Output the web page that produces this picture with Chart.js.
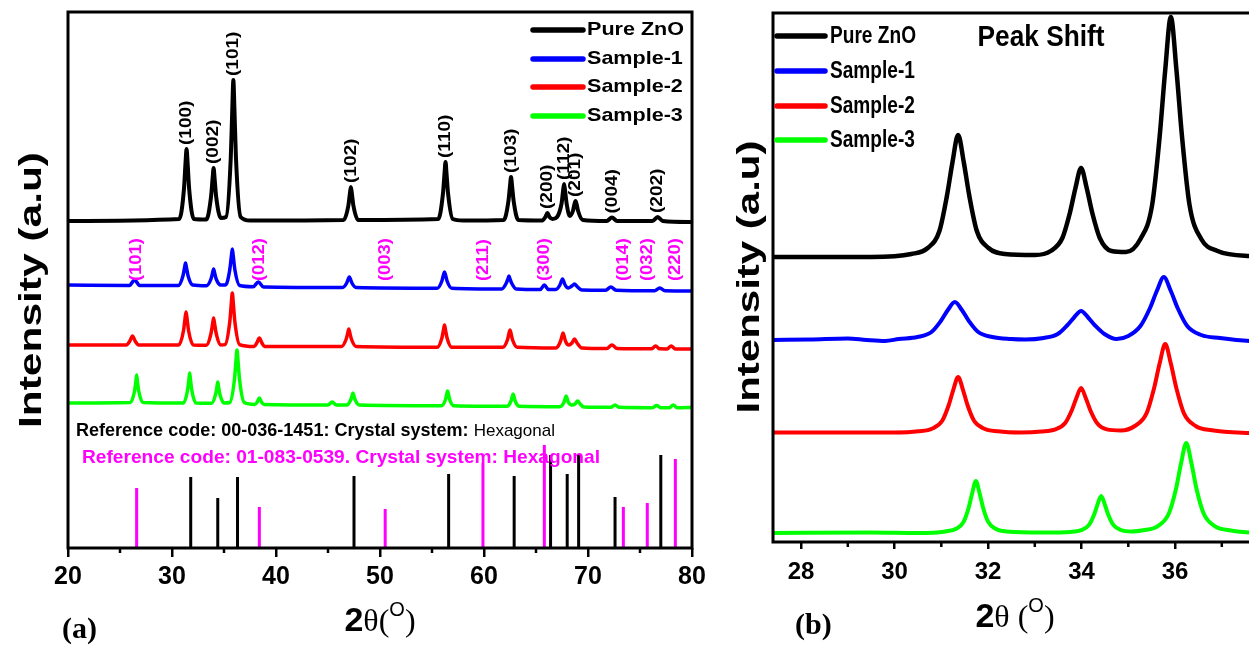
<!DOCTYPE html>
<html><head><meta charset="utf-8">
<script src="https://cdn.jsdelivr.net/npm/chart.js@4.4.1/dist/chart.umd.min.js"></script>
<style>
html,body{margin:0;padding:0;background:#fff;overflow:hidden;width:1249px;height:649px;position:relative;}
#wa{position:absolute;left:0;top:0;width:720px;height:649px;}
#wb{position:absolute;left:725px;top:0;width:620px;height:649px;}
</style></head><body>
<div id="wa"><canvas id="ca" width="720" height="649"></canvas></div>
<div id="wb"><canvas id="cb" width="620" height="649"></canvas></div>
<script>
// ---------------- DATA ----------------
const seriesNames = ['Pure ZnO', 'Sample-1', 'Sample-2', 'Sample-3'];
const seriesColors = ['#000000', '#0000ff', '#ff0000', '#00ff00'];

// Panel (a): 2θ vs stacked intensity (a.u.)
const pureZnO_a = [[20,327],[30.7,329],[31.15,359],[31.3,385],[31.4,399],[31.5,385],[31.65,359],[32.1,329],
[33.3,328.5],[33.75,351],[33.9,369],[34.0,380],[34.1,369],[34.25,351],[34.7,330],
[35.2,331],[35.65,390],[35.8,440],[35.9,468],[36.0,440],[36.15,390],[36.6,331],
[37.5,327.5],[46.5,328],[46.95,342],[47.1,354],[47.2,361],[47.3,354],[47.45,342],[47.9,328],
[55.6,329],[56.05,354],[56.2,374],[56.3,386],[56.4,374],[56.55,354],[57.0,329],[58,327.5],
[61.9,328],[62.35,347],[62.5,362],[62.6,371],[62.7,362],[62.85,347],[63.3,328],
[65.6,327.5],[65.9,331],[66.1,335],[66.3,331],[66.6,329],
[67.45,344],[67.6,357],[67.7,364],[67.8,357],[67.95,344],[68.25,332],
[68.55,337],[68.7,344],[68.8,347],[68.9,344],[69.05,337],[69.5,328],
[71.8,327],[72.3,330.5],[72.8,327],[76.2,327],[76.7,331],[77.2,327],[80,326]];

const sample1_a = [[20,263],[25.9,262.5],[26.4,268],[26.9,262.5],
[30.6,262.5],[31.05,272],[31.2,280],[31.3,285],[31.4,280],[31.55,272],[32.0,263],
[33.3,262.2],[33.75,269],[33.9,275],[34.0,279],[34.1,275],[34.25,269],[34.7,263],
[35.15,263],[35.55,278],[35.7,291],[35.8,299],[35.9,291],[36.05,278],[36.5,262.5],
[37.8,261.3],[38.3,266],[38.8,261],
[46.4,260.5],[46.8,265],[46.95,269],[47.05,271],[47.15,269],[47.3,265],[47.7,260.5],
[55.5,259.8],[55.95,267],[56.1,273],[56.2,276],[56.3,273],[56.45,267],[56.9,259.8],
[61.7,259],[62.15,265],[62.3,269],[62.4,272],[62.5,269],[62.65,265],[63.1,259],
[65.4,258.4],[65.8,263],[66.2,258.4],
[66.9,258.5],[67.3,263],[67.45,267],[67.55,269],[67.65,267],[67.8,263],[68.1,260],
[68.45,262],[68.7,264],[68.95,261.5],[69.4,258],
[71.7,257.8],[72.2,261],[72.7,257.8],[76.4,257.3],[76.9,260],[77.4,257.3],[80,257]];

const sample2_a = [[20,203],[25.6,203],[25.95,207],[26.2,212],[26.45,207],[26.8,203],
[30.65,203],[31.1,217],[31.25,229],[31.35,236],[31.45,229],[31.6,217],[32.05,203],
[33.3,202.8],[33.75,214.5],[33.9,224],[34.0,230],[34.1,224],[34.25,214.5],[34.7,203],
[35.1,203.4],[35.55,225.7],[35.7,244],[35.8,255],[35.9,244],[36.05,225.7],[36.5,203.4],
[37.9,201.5],[38.15,205],[38.4,210],[38.65,205],[38.9,201.5],
[46.3,201.5],[46.75,209],[46.9,215],[47.0,219],[47.1,215],[47.25,209],[47.7,201.5],
[55.5,200.7],[55.95,210],[56.1,218],[56.2,223],[56.3,218],[56.45,210],[56.9,200.7],
[61.8,200.7],[62.25,208],[62.4,214.5],[62.5,218],[62.6,214.5],[62.75,208],[63.2,200.7],
[66.9,200],[67.35,206.5],[67.5,212],[67.6,215],[67.7,212],[67.85,206.5],[68.15,203],
[68.45,205],[68.7,209],[68.95,205],[69.4,200],
[71.8,199.5],[72.3,203],[72.8,199.5],[76.1,199.2],[76.5,202],[76.9,199.2],[77.6,199.1],[78.0,202],[78.4,199.1],[80,199]];

const sample3_a = [[20,145],[26.0,145.5],[26.4,157],[26.52,166],[26.6,173],[26.68,166],[26.8,157],[27.2,145.5],
[31.1,145],[31.5,158],[31.62,168],[31.7,175],[31.78,168],[31.9,158],[32.3,145],
[33.8,144.8],[34.2,154],[34.32,161],[34.4,166],[34.48,161],[34.6,154],[35.0,145],
[35.55,145.5],[36.0,168],[36.15,187],[36.25,198],[36.35,187],[36.5,168],[36.95,145.5],
[37.95,143.6],[38.2,146],[38.4,150],[38.6,146],[38.85,143.5],
[45.0,143],[45.4,146],[45.8,143],
[46.8,143],[47.2,148.5],[47.32,152.5],[47.4,155],[47.48,152.5],[47.6,148.5],[48.0,143],
[55.9,142.3],[56.3,148.5],[56.42,154],[56.5,157],[56.58,154],[56.7,148.5],[57.1,142.3],
[62.2,141.7],[62.6,147],[62.72,151.5],[62.8,154],[62.88,151.5],[63.0,147],[63.4,141.7],
[67.3,141.3],[67.7,146],[67.82,150],[67.9,152],[67.98,150],[68.1,146],[68.45,143],
[68.75,144],[69.0,147],[69.25,144],[69.6,141],
[72.2,140.7],[72.6,143],[73.0,140.7],[76.2,140.3],[76.6,142.5],[77.0,140.3],[77.8,140.2],[78.2,143],[78.6,140.2],[80,140.5]];

// reference stick patterns
const refZnOPos = [31.8, 34.4, 36.3, 47.5, 56.6, 62.9, 66.4, 68.0, 69.1, 72.6, 77.0];
const refZnOInt = [71, 50, 71, 72, 74, 72, 93, 74, 94, 51, 93];
const refSecPos = [26.6, 38.4, 50.5, 59.9, 65.8, 73.4, 75.7, 78.4];
const refSecInt = [60, 41, 39, 85, 103, 41, 45, 89];

const hklZnO = ['(100)','(002)','(101)','(102)','(110)','(103)','(200)','(112)','(201)','(004)','(202)'];
const hklZnOPos = [31.4, 34.0, 35.9, 47.2, 56.3, 62.6, 66.1, 67.7, 68.8, 72.3, 76.7];
const hklSec = ['(101)','(012)','(003)','(211)','(300)','(014)','(032)','(220)'];

const refText1 = ['Reference code: 00-036-1451: Crystal system: ', 'Hexagonal'];
const refText2 = 'Reference code: 01-083-0539. Crystal system: Hexagonal';

const xTicksA = [20, 30, 40, 50, 60, 70, 80];
const xMinorA = [25, 35, 45, 55, 65, 75];

// Panel (b): peak shift zoom
const pureZnO_b = [[27.4,285],[29.5,285],[30.36,288],[30.71,294],[30.96,311],[31.12,346],[31.24,380],[31.36,407],[31.48,380],[31.60,346],[31.76,311],[32.01,294],[32.36,288],[33.0,287],[33.34,291],[33.59,304],[33.75,329],[33.87,354],[33.99,374],[34.11,354],[34.23,329],[34.39,304],[34.64,291],[34.95,290],[35.26,303],[35.51,337],[35.67,405],[35.79,472],[35.91,525],[36.03,472],[36.15,405],[36.31,337],[36.56,303],[36.91,291],[37.6,286],[38.7,285]];
const sample1_b = [[27.4,202],[28.2,202.5],[29.0,203.5],[29.4,202],[29.8,201],[30.09,203],[30.49,205],[30.79,210],[30.99,221],[31.14,232],[31.29,240],[31.44,232],[31.59,221],[31.79,210],[32.09,205],[32.49,203],[32.8,202.5],[33.19,204],[33.49,208],[33.69,216.5],[33.84,224.5],[33.99,231],[34.14,224.5],[34.29,216.5],[34.49,208],[34.75,203],[35.0,206],[35.26,216],[35.46,233.5],[35.61,251],[35.76,265],[35.91,251],[36.06,233.5],[36.26,216],[36.56,207],[36.96,204],[37.6,201],[38.7,200]];
const sample2_b = [[27.4,109.5],[30.0,109.5],[30.51,110.7],[30.81,113.5],[31.02,121.3],[31.16,137],[31.26,152.7],[31.36,165],[31.46,152.7],[31.56,137],[31.70,121.3],[31.91,113.5],[32.21,110.7],[32.7,109.5],[33.14,110.4],[33.44,112.6],[33.65,119],[33.79,131.5],[33.89,144],[33.99,154],[34.09,144],[34.19,131.5],[34.33,119],[34.54,112.6],[34.84,111.5],[35.14,116],[35.39,128.6],[35.55,153.5],[35.67,178.4],[35.79,198],[35.91,178.4],[36.03,153.5],[36.19,128.6],[36.44,116],[36.79,111.7],[37.6,109],[38.7,108]];
const sample3_b = [[27.4,9],[29.5,9.5],[30.5,9],[31.09,10.6],[31.32,13.2],[31.48,20.4],[31.59,35],[31.665,49.6],[31.74,61],[31.815,49.6],[31.89,35],[32.0,20.4],[32.16,13.2],[32.39,10.6],[33.2,9.5],[33.77,10.1],[34.0,12],[34.16,17.1],[34.27,27.5],[34.345,37.9],[34.42,46],[34.495,37.9],[34.57,27.5],[34.68,17.1],[34.84,12],[35.07,10.5],[35.32,11.7],[35.64,16.2],[35.87,28.8],[36.025,54],[36.13,79],[36.24,99],[36.35,79],[36.455,54],[36.61,28.8],[36.84,16.2],[37.16,11.7],[37.8,9],[38.7,8]];

const xTicksB = [28, 30, 32, 34, 36];
const xMinorB = [29, 31, 33, 35, 37];

// ---------------- HELPERS ----------------
const FS = '"Liberation Sans", Arial, sans-serif';
const FN = '"Liberation Sans Narrow", "Liberation Sans", Arial, sans-serif';
const FSERIF = '"Liberation Serif", "Times New Roman", serif';

function curve(label, data, color, lw) {
  return {label, isSeries: true, data, borderColor: color, backgroundColor: color, borderWidth: lw,
    pointRadius: 0, pointHoverRadius: 0, fill: false, cubicInterpolationMode: 'monotone',
    borderJoinStyle: 'round', borderCapStyle: 'round'};
}
function sticks(label, pos, inten, color) {
  const d = [];
  pos.forEach((p, i) => { d.push([p, 0], [p, inten[i]], [p, null]); });
  return {label, isSeries: false, data: d, borderColor: color, borderWidth: 3, pointRadius: 0,
    spanGaps: false, tension: 0, fill: false, borderCapStyle: 'butt'};
}
function drawText(ctx, s, x, y, o) {
  ctx.save();
  ctx.font = o.font; ctx.fillStyle = o.color || '#000';
  ctx.textBaseline = o.baseline || 'middle'; ctx.textAlign = 'left';
  ctx.translate(x, y);
  if (o.rot) ctx.rotate(o.rot);
  const w = ctx.measureText(s).width;
  const sx = o.width ? o.width / w : (o.sx || 1);
  ctx.scale(sx, 1);
  const a = o.align || 'left';
  ctx.fillText(s, a === 'center' ? -w / 2 : a === 'right' ? -w : 0, 0);
  ctx.restore();
}
function drawRun(ctx, parts, x, y, width, color) {
  ctx.save(); ctx.fillStyle = color; ctx.textBaseline = 'middle'; ctx.textAlign = 'left';
  let tot = 0; parts.forEach(p => { ctx.font = p.font; p.w = ctx.measureText(p.t).width; tot += p.w; });
  ctx.translate(x, y); ctx.scale(width / tot, 1);
  let cx = 0; parts.forEach(p => { ctx.font = p.font; ctx.fillText(p.t, cx, 0); cx += p.w; });
  ctx.restore();
}
function drawParts(ctx, parts, cx, by) {
  ctx.save(); ctx.textBaseline = 'alphabetic'; ctx.textAlign = 'left'; ctx.fillStyle = '#000';
  let tot = 0; parts.forEach(p => { ctx.font = p.font; p.w = ctx.measureText(p.t).width; tot += p.w; });
  let x = cx - tot / 2;
  parts.forEach(p => { ctx.font = p.font; ctx.fillText(p.t, x, by + (p.dy || 0)); x += p.w; });
  ctx.restore();
}
function drawLegend(ctx, chart, o) {
  ctx.save();
  ctx.font = o.font;
  const sx = o.refWidth / ctx.measureText(seriesNames[0]).width;
  seriesNames.forEach((name, i) => {
    const d = chart.data.datasets.find(x => x.isSeries && x.label === name);
    const y = o.rows[i];
    ctx.strokeStyle = d.borderColor; ctx.lineWidth = o.lw; ctx.lineCap = 'round';
    ctx.beginPath(); ctx.moveTo(o.x0, y); ctx.lineTo(o.x1, y); ctx.stroke();
    drawText(ctx, name, o.tx, y, {font: o.font, sx});
  });
  ctx.restore();
}
function peakTop(data, pos) {
  let m = -Infinity;
  data.forEach(p => { if (Math.abs(p[0] - pos) < 0.2 && p[1] > m) m = p[1]; });
  return m;
}
function frame(ctx, chart, minor) {
  const {left, right, top, bottom} = chart.chartArea;
  const xs = chart.scales.x;
  ctx.save();
  ctx.strokeStyle = '#000'; ctx.lineWidth = 3;
  ctx.strokeRect(left, top, right - left, bottom - top);
  ctx.lineWidth = 2.5;
  minor.forEach(v => { const px = xs.getPixelForValue(v); ctx.beginPath(); ctx.moveTo(px, bottom); ctx.lineTo(px, bottom + 5); ctx.stroke(); });
  ctx.restore();
}

// ---------------- CHART (a) ----------------
const decorA = {id: 'decorA', afterDraw(chart) {
  const ctx = chart.ctx, xs = chart.scales.x, ys = chart.scales.y;
  frame(ctx, chart, xMinorA);
  drawLegend(ctx, chart, {x0: 533, x1: 583, tx: 587, rows: [30, 59, 87, 116], font: 'bold 19px ' + FS, refWidth: 97, lw: 5.5});
  hklZnO.forEach((s, i) => {
    const pos = hklZnOPos[i];
    drawText(ctx, s, xs.getPixelForValue(pos), ys.getPixelForValue(peakTop(pureZnO_a, pos)) - 4,
      {font: 'bold 17px ' + FS, rot: -Math.PI / 2, sx: 1.12});
  });
  hklSec.forEach((s, i) => {
    drawText(ctx, s, xs.getPixelForValue(refSecPos[i]), 281,
      {font: 'bold 17px ' + FS, rot: -Math.PI / 2, sx: 1.08, color: '#ff00ff'});
  });
  drawRun(ctx, [{t: refText1[0], font: 'bold 18px ' + FS}, {t: refText1[1], font: '17px ' + FS}], 76, 431, 479, '#000');
  drawRun(ctx, [{t: refText2, font: 'bold 19px ' + FS}], 82, 458, 518, '#ff00ff');
  drawText(ctx, 'Intensity (a.u)', 32, 290, {font: 'bold 32px ' + FS, rot: -Math.PI / 2, align: 'center', width: 276});
  drawParts(ctx, [{t: '2', font: 'bold 34px ' + FS}, {t: 'θ(', font: '32px ' + FSERIF},
    {t: 'O', font: '20px ' + FS, dy: -15}, {t: ')', font: '32px ' + FSERIF}], 380, 631);
  drawText(ctx, '(a)', 62, 630, {font: 'bold 30px ' + FSERIF});
}};

new Chart(document.getElementById('ca'), {
  type: 'line',
  data: {datasets: [
    curve(seriesNames[0], pureZnO_a, seriesColors[0], 4),
    curve(seriesNames[1], sample1_a, seriesColors[1], 3.5),
    curve(seriesNames[2], sample2_a, seriesColors[2], 3.5),
    curve(seriesNames[3], sample3_a, seriesColors[3], 3.5),
    sticks('00-036-1451', refZnOPos, refZnOInt, '#000000'),
    sticks('01-083-0539', refSecPos, refSecInt, '#ff00ff')
  ]},
  options: {
    responsive: false, animation: false, events: [],
    layout: {padding: {left: 68, right: 28, top: 12, bottom: 0}},
    plugins: {legend: {display: false}, tooltip: {enabled: false}},
    scales: {
      x: {type: 'linear', min: 20, max: 80,
        afterBuildTicks: a => { a.ticks = xTicksA.map(v => ({value: v})); },
        afterFit: s => { s.height = 101; },
        grid: {drawOnChartArea: false, drawTicks: true, tickLength: 9, color: '#000', lineWidth: 2.5},
        border: {display: false},
        ticks: {color: '#000', font: {family: FN, weight: 'bold', size: 25}, padding: 5, autoSkip: false, maxRotation: 0}},
      y: {display: false, min: 0, max: 536}
    }
  },
  plugins: [decorA]
});

// ---------------- CHART (b) ----------------
const decorB = {id: 'decorB', afterDraw(chart) {
  const ctx = chart.ctx;
  frame(ctx, chart, xMinorB);
  drawLegend(ctx, chart, {x0: 52, x1: 100, tx: 105, rows: [36, 71, 106, 140], font: 'bold 24px ' + FN, refWidth: 86, lw: 5.5});
  drawText(ctx, 'Peak Shift', 316, 38, {font: 'bold 30px ' + FS, align: 'center', width: 127});
  drawText(ctx, 'Intensity (a.u)', 25, 277, {font: 'bold 32px ' + FS, rot: -Math.PI / 2, align: 'center', width: 273});
  drawParts(ctx, [{t: '2', font: 'bold 34px ' + FS}, {t: 'θ (', font: '32px ' + FSERIF},
    {t: 'O', font: '20px ' + FS, dy: -15}, {t: ')', font: '32px ' + FSERIF}], 290, 627);
  drawText(ctx, '(b)', 70, 626, {font: 'bold 30px ' + FSERIF});
}};

new Chart(document.getElementById('cb'), {
  type: 'line',
  data: {datasets: [
    curve(seriesNames[0], pureZnO_b, seriesColors[0], 4.5),
    curve(seriesNames[1], sample1_b, seriesColors[1], 4),
    curve(seriesNames[2], sample2_b, seriesColors[2], 4),
    curve(seriesNames[3], sample3_b, seriesColors[3], 4)
  ]},
  options: {
    responsive: false, animation: false, events: [],
    layout: {padding: {left: 48, right: 45, top: 13, bottom: 0}},
    plugins: {legend: {display: false}, tooltip: {enabled: false}},
    scales: {
      x: {type: 'linear', min: 27.4, max: 38.673,
        afterBuildTicks: a => { a.ticks = xTicksB.map(v => ({value: v})); },
        afterFit: s => { s.height = 107; },
        grid: {drawOnChartArea: false, drawTicks: true, tickLength: 7, color: '#000', lineWidth: 2.5},
        border: {display: false},
        ticks: {color: '#000', font: {family: FN, weight: 'bold', size: 24}, padding: 9, autoSkip: false, maxRotation: 0}},
      y: {display: false, min: 0, max: 529}
    }
  },
  plugins: [decorB]
});
</script>
</body></html>
